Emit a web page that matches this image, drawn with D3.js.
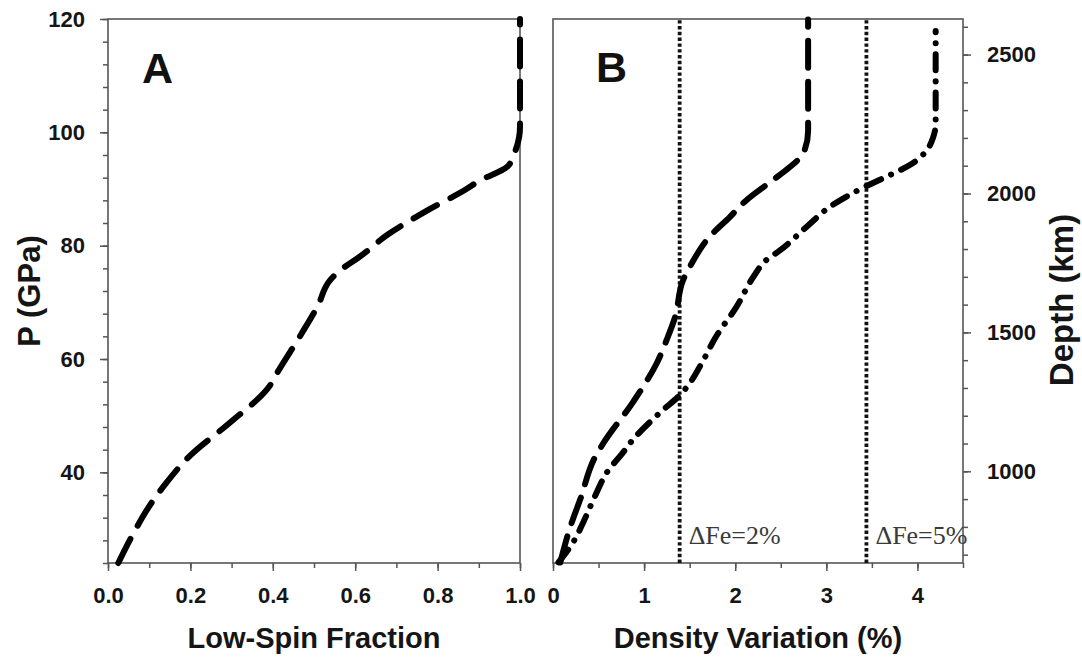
<!DOCTYPE html>
<html>
<head>
<meta charset="utf-8">
<script src="https://cdn.jsdelivr.net/npm/d3@7"></script>
<style>
  html, body { margin: 0; padding: 0; background: #fff; }
  svg { display: block; }
</style>
</head>
<body>
<svg id="chart" width="1082" height="659"></svg>
<script>
// ---- Data ----
// Panel A: low-spin fraction vs pressure (GPa)
const lsFraction = [0.025, 0.06, 0.10, 0.14, 0.20, 0.30, 0.39, 0.41, 0.47, 0.51, 0.54, 0.57, 0.61, 0.68, 0.77, 0.87, 0.90, 0.97, 0.99, 1.0, 1.0];
const lsPressure = [24, 29, 34, 38, 43, 49, 55, 57.5, 64.5, 69.5, 74, 76, 78, 82, 86, 90, 91.4, 94, 97, 101, 120];

// Panel B: density variation (%) vs depth (km)
const dvDashX = [0.08, 0.20, 0.30, 0.46, 0.55, 0.88, 1.14, 1.25, 1.34, 1.43, 1.50, 1.72, 1.94, 2.12, 2.38, 2.60, 2.70, 2.76, 2.80, 2.80];
const dvDashDepth = [672, 810, 900, 1050, 1100, 1250, 1390, 1475, 1555, 1690, 1735, 1845, 1915, 1975, 2040, 2095, 2125, 2155, 2225, 2626];

const dvDotDashX = [0.06, 0.24, 0.33, 0.46, 0.61, 0.75, 0.88, 1.17, 1.41, 1.50, 1.65, 1.79, 2.01, 2.20, 2.34, 2.49, 2.80, 3.03, 3.43, 3.69, 3.93, 4.09, 4.17, 4.20, 4.20];
const dvDotDashDepth = [672, 755, 815, 910, 1005, 1060, 1115, 1210, 1280, 1317, 1400, 1485, 1590, 1700, 1760, 1795, 1885, 1950, 2025, 2065, 2105, 2150, 2200, 2250, 2585];

// Reference lines (dotted)
const refLineX = [1.39, 3.44];
const refLineLabels = ["\u0394Fe=2%", "\u0394Fe=5%"];

// Tick values
const pressureMajorTicks = [40, 60, 80, 100, 120];
const pressureMinorTicks = d3.range(24, 121, 4);
const fractionMajorTicks = [0, 0.2, 0.4, 0.6, 0.8, 1.0];
const fractionMinorTicks = d3.range(0, 1.001, 0.1);
const densityMajorTicks = [0, 1, 2, 3, 4];
const densityMinorTicks = d3.range(0, 4.51, 0.5);
const depthMajorTicks = [1000, 1500, 2000, 2500];
const depthMinorTicks = d3.range(700, 2601, 100);

// ---- Layout ----
const svg = d3.select("#chart");
const yTop = 19, yBottom = 563;
const A = {x0: 108, x1: 520};
const B = {x0: 553, x1: 963};
const axisColor = "#555";
const textColor = "#151515";
const boldFont = "'Liberation Sans', Arial, sans-serif";

const xA = d3.scaleLinear().domain([0, 1]).range([A.x0, A.x1]);
const yP = d3.scaleLinear().domain([24, 120]).range([yBottom, yTop]);
const xB = d3.scaleLinear().domain([0, 4.5]).range([B.x0, B.x1]);
const yD = d3.scaleLinear().domain([670, 2628]).range([yBottom, yTop]);

function frame(p) {
  svg.append("rect")
    .attr("x", p.x0).attr("y", yTop)
    .attr("width", p.x1 - p.x0).attr("height", yBottom - yTop)
    .attr("fill", "none").attr("stroke", axisColor).attr("stroke-width", 1.6);
}
frame(A); frame(B);

function styleAxis(g, fontSize) {
  g.select(".domain").remove();
  g.selectAll(".tick line").attr("stroke", axisColor).attr("stroke-width", 1.5);
  g.selectAll(".tick text")
    .attr("fill", textColor)
    .style("font-family", boldFont)
    .style("font-weight", "bold")
    .style("font-size", fontSize + "px");
}

// Panel A left axis
let g = svg.append("g").attr("transform", `translate(${A.x0},0)`)
  .call(d3.axisLeft(yP).tickValues(pressureMinorTicks).tickSize(5).tickFormat(""));
styleAxis(g, 22);
g = svg.append("g").attr("transform", `translate(${A.x0},0)`)
  .call(d3.axisLeft(yP).tickValues(pressureMajorTicks).tickSize(8).tickPadding(15).tickFormat(d3.format("d")));
styleAxis(g, 22);

// Panel A bottom axis
g = svg.append("g").attr("transform", `translate(0,${yBottom})`)
  .call(d3.axisBottom(xA).tickValues(fractionMinorTicks).tickSize(5).tickFormat(""));
styleAxis(g, 22);
g = svg.append("g").attr("transform", `translate(0,${yBottom})`)
  .call(d3.axisBottom(xA).tickValues(fractionMajorTicks).tickSize(8).tickPadding(16).tickFormat(d3.format(".1f")));
styleAxis(g, 22);

// Panel B bottom axis
g = svg.append("g").attr("transform", `translate(0,${yBottom})`)
  .call(d3.axisBottom(xB).tickValues(densityMinorTicks).tickSize(5).tickFormat(""));
styleAxis(g, 22);
g = svg.append("g").attr("transform", `translate(0,${yBottom})`)
  .call(d3.axisBottom(xB).tickValues(densityMajorTicks).tickSize(8).tickPadding(16).tickFormat(d3.format("d")));
styleAxis(g, 22);

// Panel B right axis (depth)
g = svg.append("g").attr("transform", `translate(${B.x1},0)`)
  .call(d3.axisRight(yD).tickValues(depthMinorTicks).tickSize(5).tickFormat(""));
styleAxis(g, 22);
g = svg.append("g").attr("transform", `translate(${B.x1},0)`)
  .call(d3.axisRight(yD).tickValues(depthMajorTicks).tickSize(8).tickPadding(16).tickFormat(d3.format("d")));
styleAxis(g, 22);

// Axis titles
svg.append("text").text("Low-Spin Fraction")
  .attr("x", (A.x0 + A.x1) / 2).attr("y", 648).attr("text-anchor", "middle")
  .style("font-family", boldFont).style("font-weight", "bold").style("font-size", "29px").attr("fill", textColor);
svg.append("text").text("Density Variation (%)")
  .attr("x", (B.x0 + B.x1) / 2).attr("y", 648).attr("text-anchor", "middle")
  .style("font-family", boldFont).style("font-weight", "bold").style("font-size", "29px").attr("fill", textColor);
svg.append("text").text("P (GPa)")
  .attr("transform", `translate(40,${(yTop + yBottom) / 2}) rotate(-90)`)
  .attr("text-anchor", "middle")
  .style("font-family", boldFont).style("font-weight", "bold").style("font-size", "31px").attr("fill", textColor);
svg.append("text").text("Depth (km)")
  .attr("transform", `translate(1073,300) rotate(-90)`)
  .attr("text-anchor", "middle")
  .style("font-family", boldFont).style("font-weight", "bold").style("font-size", "33px").attr("fill", textColor);

// Panel letters
svg.append("text").text("A").attr("x", 142).attr("y", 83)
  .style("font-family", boldFont).style("font-weight", "bold").style("font-size", "43px").attr("fill", "#111");
svg.append("text").text("B").attr("x", 596).attr("y", 82)
  .style("font-family", boldFont).style("font-weight", "bold").style("font-size", "43px").attr("fill", "#111");

// Reference dotted lines in B
refLineX.forEach((v, i) => {
  svg.append("line")
    .attr("x1", xB(v)).attr("x2", xB(v)).attr("y1", yBottom).attr("y2", yTop)
    .attr("stroke", "#111").attr("stroke-width", 3.8)
    .attr("stroke-linecap", "butt").attr("stroke-dasharray", "3.4,2.4");
  svg.append("text").text(refLineLabels[i])
    .attr("x", xB(v) + 9).attr("y", 544)
    .attr("textLength", 92).attr("lengthAdjust", "spacingAndGlyphs")
    .style("font-family", "'Liberation Serif', 'Times New Roman', serif")
    .style("font-size", "25px").attr("fill", "#3a3a3a");
});

// Curves
const lineA = d3.line().x((d, i) => xA(lsFraction[i])).y((d, i) => yP(lsPressure[i])).curve(d3.curveMonotoneY);
svg.append("path").datum(lsFraction).attr("d", lineA)
  .attr("fill", "none").attr("stroke", "#000").attr("stroke-width", 6)
  .attr("stroke-linecap", "round").attr("stroke-dasharray", "27,15");

const lineB1 = d3.line().x((d, i) => xB(dvDashX[i])).y((d, i) => yD(dvDashDepth[i])).curve(d3.curveMonotoneY);
svg.append("path").datum(dvDashX).attr("d", lineB1)
  .attr("fill", "none").attr("stroke", "#000").attr("stroke-width", 6)
  .attr("stroke-linecap", "round").attr("stroke-dasharray", "27,14");

const lineB2 = d3.line().x((d, i) => xB(dvDotDashX[i])).y((d, i) => yD(dvDotDashDepth[i])).curve(d3.curveMonotoneY);
svg.append("path").datum(dvDotDashX).attr("d", lineB2)
  .attr("fill", "none").attr("stroke", "#000").attr("stroke-width", 6)
  .attr("stroke-linecap", "round").attr("stroke-dasharray", "16,11,0.1,11");
</script>
</body>
</html>
